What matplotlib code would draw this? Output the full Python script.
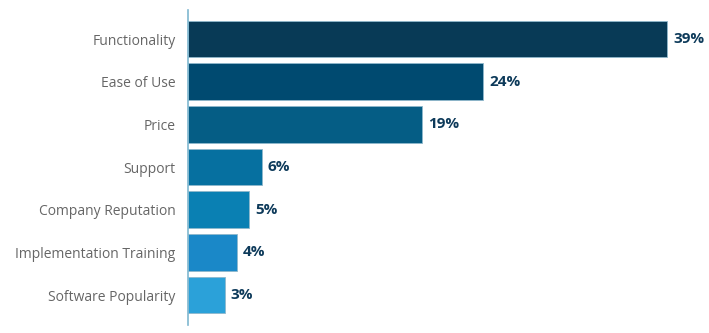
import matplotlib.pyplot as plt

# survey results
factors = ['Functionality', 'Ease of Use', 'Price', 'Support',
           'Company Reputation', 'Implementation Training', 'Software Popularity']
shares = [39, 24, 19, 6, 5, 4, 3]
bar_colors = ['#083a56', '#004a70', '#055d85', '#0670a0',
              '#0a80b3', '#1a88c8', '#2ba1d9']

plt.rcParams['font.family'] = ['Open Sans', 'DejaVu Sans']

fig = plt.figure(figsize=(7.09, 3.33), dpi=100)
ax = fig.add_axes([0.265, 0.024, 0.725, 0.946])

ypos = list(range(len(factors)))
ax.barh(ypos, shares, height=0.86, color=bar_colors,
        edgecolor='#8fb8cc', linewidth=0.6)

for y, v in zip(ypos, shares):
    ax.text(v + 0.5, y, f'{v}%', va='center', ha='left',
            fontsize=11, fontweight='bold', color='#0d3a5a')

ax.set_yticks(ypos)
ax.set_yticklabels(factors, fontsize=10, color='#666666')
ax.tick_params(axis='y', length=0, pad=9)
ax.set_xticks([])
ax.set_xlim(0, 41.8)
ax.set_ylim(6.7, -0.68)

for s in ['top', 'right', 'bottom']:
    ax.spines[s].set_visible(False)
ax.spines['left'].set_color('#7fb7d0')
ax.spines['left'].set_linewidth(1.2)

fig.savefig('out.png', dpi=100)
